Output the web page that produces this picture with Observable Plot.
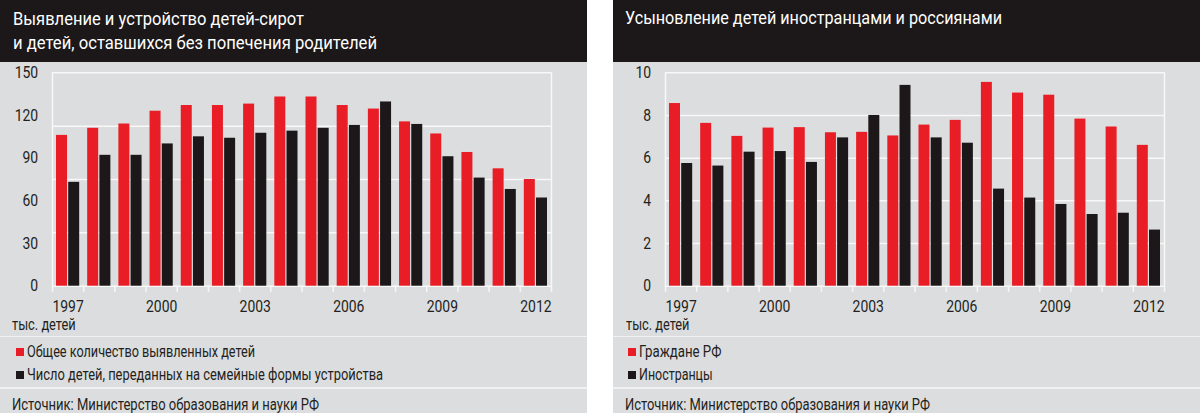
<!DOCTYPE html>
<html><head><meta charset="utf-8">
<script src="https://cdn.jsdelivr.net/npm/d3@7"></script>
<script src="https://cdn.jsdelivr.net/npm/@observablehq/plot@0.6"></script>
<style>
body{margin:0;background:#fff;width:1200px;height:413px;overflow:hidden;font-family:Roboto,"Liberation Sans",sans-serif;position:relative;}
.panel{position:absolute;top:0;width:587px;height:413px;background:#dcdddf;overflow:hidden;}
.head{position:absolute;left:0;top:0;width:100%;height:61.5px;background:#1c1819;}
.t{position:absolute;white-space:nowrap;transform-origin:0 0;color:#231f20;font-size:16px;line-height:16px;}
.title{color:#fff;font-size:19px;line-height:24px;}
.sep{position:absolute;left:0;width:100%;height:1.5px;background:#f1f1f2;}
.sq{position:absolute;width:8px;height:8px;}
.chart{position:absolute;left:0;top:0;}
.chart text{font-family:Roboto,"Liberation Sans",sans-serif;}
</style>
</head><body>
<div class="panel" id="pL" style="left:0">
  <div class="head"></div>
  <div class="t title" style="left:12.7px;top:6.5px" data-w="291">Выявление и устройство детей-сирот</div>
  <div class="t title" style="left:12.7px;top:30.5px" data-w="364">и детей, оставшихся без попечения родителей</div>
  <div class="t" style="left:12.3px;top:316.5px" data-w="63.7">тыс. детей</div>
  <div class="sep" style="top:335.5px"></div>
  <div class="sq" style="left:15.7px;top:347.5px;background:#e81d25"></div>
  <div class="t" style="left:26.7px;top:343.8px" data-w="228">Общее количество выявленных детей</div>
  <div class="sq" style="left:15.7px;top:371px;background:#1c1819"></div>
  <div class="t" style="left:26.7px;top:367.3px" data-w="356">Число детей, переданных на семейные формы устройства</div>
  <div class="sep" style="top:387px"></div>
  <div class="t" style="left:12.3px;top:397px" data-w="307">Источник: Министерство образования и науки РФ</div>
</div>
<div class="panel" id="pR" style="left:613px">
  <div class="head"></div>
  <div class="t title" style="left:12px;top:5.5px" data-w="377">Усыновление детей иностранцами и россиянами</div>
  <div class="t" style="left:13px;top:316.5px" data-w="63.5">тыс. детей</div>
  <div class="sep" style="top:335.5px"></div>
  <div class="sq" style="left:15px;top:347.5px;background:#e81d25"></div>
  <div class="t" style="left:25.5px;top:343.8px" data-w="82.4">Граждане РФ</div>
  <div class="sq" style="left:15px;top:371px;background:#1c1819"></div>
  <div class="t" style="left:25.5px;top:367.3px" data-w="73.6">Иностранцы</div>
  <div class="sep" style="top:387px"></div>
  <div class="t" style="left:12px;top:397px" data-w="305">Источник: Министерство образования и науки РФ</div>
</div>
<script>
// ---- data ----
const years = [1997,1998,1999,2000,2001,2002,2003,2004,2005,2006,2007,2008,2009,2010,2011,2012];
const xLabelYears = [1997,2000,2003,2006,2009,2012];
// left chart, thousand children
const identified = [106,111,114,123,127,127,128,133,133,127,124.5,115.5,107,94,82.5,75];
const placedInFamilies = [73,92,92,100,105,104,107.5,109,111,113,129.5,113.7,91,76,68,62];
const leftTicks = [0,30,60,90,120,150];
const leftGrid = [0,37.5,75,112.5,150];
// right chart, thousand children
const adoptedByCitizens = [8.56,7.63,7.02,7.41,7.43,7.19,7.21,7.04,7.55,7.77,9.55,9.05,8.95,7.83,7.46,6.60];
const adoptedByForeigners = [5.75,5.63,6.28,6.31,5.80,6.95,8.00,9.41,6.95,6.70,4.55,4.13,3.83,3.36,3.42,2.63];
const rightTicks = [0,2,4,6,8,10];
const rightGrid = [0,2,4,6,8,10];

const RED = "#e81d25", BLACK = "#1c1819", WHITE = "#f8f8f8", INK = "#231f20";

function chart(a, b, yMax, ticks, grid) {
  const bounds = [years[0] - 0.5, ...years.map(y => y + 0.5)];
  const ends = [bounds[0], bounds[bounds.length - 1]];
  return Plot.plot({
    width: 587, height: 320,
    marginLeft: 52, marginRight: 36, marginTop: 72.3, marginBottom: 34.3,
    x: {domain: ends, axis: null},
    y: {domain: [0, yMax], axis: null},
    style: {background: "transparent", overflow: "visible"},
    marks: [
      Plot.ruleY(grid, {stroke: WHITE, strokeWidth: 1.5}),
      Plot.ruleX(ends, {stroke: WHITE, strokeWidth: 1.5}),
      Plot.ruleX(bounds, {y1: 0, y2: 0, insetBottom: -6, stroke: WHITE, strokeWidth: 1.5}),
      Plot.rect(years, {x1: d => d - 0.5, x2: d => d, y1: 0, y2: (d, i) => a[i], insetLeft: 4, insetRight: 0.6, fill: RED}),
      Plot.rect(years, {x1: d => d, x2: d => d + 0.5, y1: 0, y2: (d, i) => b[i], insetLeft: 0.6, insetRight: 4, fill: BLACK}),
      Plot.text(ticks, {x: ends[0], y: d => d, text: d => String(d), textAnchor: "end", dx: -14.4, fontSize: 16, fill: INK}),
      Plot.text(xLabelYears, {x: d => d, y: 0, text: d => String(d), dy: 20.8, fontSize: 16, fill: INK})
    ]
  });
}

function place(svg, panel) {
  svg.classList.add("chart");
  panel.insertBefore(svg, panel.children[1]);
  svg.querySelectorAll("text").forEach(t => {
    const w = t.getComputedTextLength();
    t.setAttribute("textLength", (w * 0.87).toFixed(2));
    t.setAttribute("lengthAdjust", "spacingAndGlyphs");
  });
}

place(chart(identified, placedInFamilies, 150, leftTicks, leftGrid), document.getElementById("pL"));
place(chart(adoptedByCitizens, adoptedByForeigners, 10, rightTicks, rightGrid), document.getElementById("pR"));

function fit() {
  document.querySelectorAll("[data-w]").forEach(el => {
    el.style.transform = "none";
    const w = el.getBoundingClientRect().width;
    el.style.transform = `scaleX(${(+el.dataset.w / w).toFixed(4)})`;
  });
}
fit();
if (document.fonts && document.fonts.ready) document.fonts.ready.then(fit);
</script>
</body></html>
